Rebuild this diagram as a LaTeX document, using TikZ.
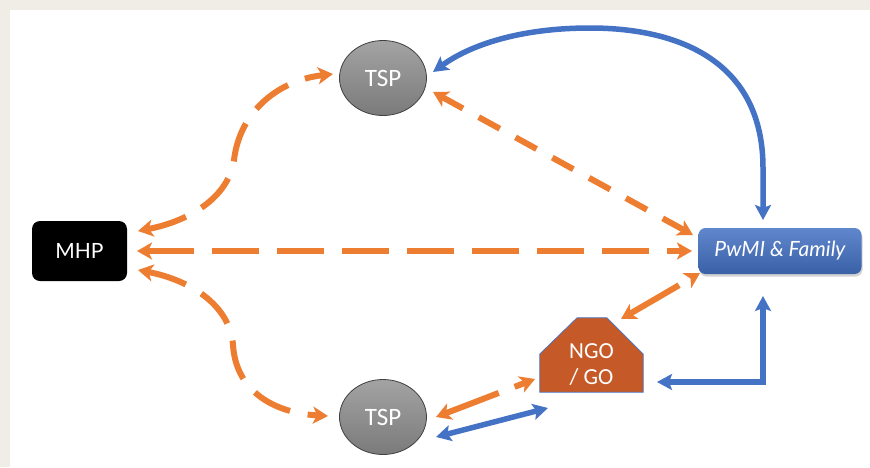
\documentclass[tikz,border=0pt]{standalone}
\usepackage{fontspec}
\setmainfont{Lato}
\newfontfamily\calib{Carlito}
\usetikzlibrary{arrows.meta,calc,shadows,shapes.geometric}
\definecolor{bgc}{HTML}{F0EDE6}
\definecolor{org}{HTML}{ED7D31}
\definecolor{blu}{HTML}{4472C4}
\definecolor{ngoc}{HTML}{C55A28}
\tikzset{
  otip/.tip={Stealth[length=15pt,width=17pt,inset=4pt]},
  btip/.tip={Stealth[length=15pt,width=16pt,inset=3pt]},
  oarr/.style={draw=org, line width=6pt, otip-otip},
  barr/.style={draw=blu, line width=5.5pt},
  tspnode/.style={ellipse, minimum width=87pt, minimum height=75pt, inner sep=0pt,
    draw=black!75, line width=0.8pt, top color=black!36, bottom color=black!52,
    text=white, font=\calib\fontsize{25}{29}\selectfont},
  mhpnode/.style={rectangle, rounded corners=8pt, fill=black, minimum width=95pt,
    minimum height=60pt, text=white, font=\fontsize{21}{25}\selectfont},
  pwnode/.style={rectangle, rounded corners=7pt, minimum width=163pt, minimum height=46pt,
    top color=blu!85!white, bottom color=blu!85!black, draw=none,
    drop shadow={shadow xshift=1pt, shadow yshift=-2.5pt, opacity=0.35},
    text=white, font=\itshape\fontsize{21}{25}\selectfont},
  ngonode/.style={rectangle, minimum width=103pt, minimum height=74pt, inner sep=0pt,
    text=white, align=center, font=\calib\fontsize{23}{26}\selectfont},
}
\begin{document}
\begin{tikzpicture}[x=1pt,y=-1pt]
\fill[bgc] (0,0) rectangle (870,467);
\fill[white] (10,10) rectangle (870,467);
\useasboundingbox (0,0) rectangle (870,467);

% nodes
\node[tspnode] (tspA) at (383,78) {TSP};
\node[tspnode] (tspB) at (383,417) {TSP};
\node[mhpnode] (mhp) at (79.5,251) {MHP};
\node[pwnode] (pw) at (780,251) {PwMI \& Family};
\node[ngonode] (ngo) at (591.5,355) {};
\fill[ngoc, draw=blu, line width=0.7pt]
  (ngo.south west) -- ($(ngo.west)+(0,-1)$) -- ($(ngo.north)+(-14.5,0)$)
  -- ($(ngo.north)+(15.5,0)$) -- ($(ngo.east)+(0,-1)$) -- (ngo.south east) -- cycle;
\node[ngonode, minimum height=0pt] at ($(ngo.center)+(0,10)$) {NGO\\/ GO};

% orange dashed connectors
\draw[oarr, dash pattern=on 47pt off 18pt]
  ($(mhp.center)+(57.5,0)$) -- ($(pw.center)+(-88,0)$);
\draw[oarr, dash pattern=on 24pt off 18pt]
  ($(tspA.center)+(50,14)$) -- ($(pw.center)+(-87,-16)$);
\draw[oarr, dash pattern=on 40pt off 18pt]
  ($(mhp.center)+(58.5,-20)$) .. controls (185,222) and (228,200) .. (234,160)
  .. controls (240,110) and (280,80) .. ($(tspA.center)+(-50,-4)$);
\draw[oarr, dash pattern=on 40pt off 18pt]
  ($(mhp.center)+(58.5,19)$) .. controls (190,280) and (230,305) .. (233,345)
  .. controls (236,392) and (275,413) .. ($(tspB.center)+(-55,-1)$);
\draw[oarr, dash pattern=on 57pt off 16pt]
  ($(ngo.center)+(29.5,-36)$) -- ($(pw.center)+(-80,22)$);
\draw[oarr, dash pattern=on 57pt off 17pt]
  ($(tspB.center)+(53,0)$) -- ($(ngo.center)+(-56.5,24)$);

% blue connectors
\draw[barr, btip-btip]
  ($(pw.center)+(-17,-31)$) -- (763,170) .. controls (764,62) and (680,28) .. (590,28)
  .. controls (520,28) and (470,45) .. ($(tspA.center)+(50,-6)$);
\draw[barr, btip-btip]
  ($(pw.center)+(-17,45)$) |- ($(ngo.center)+(65.5,27)$);
\draw[barr, btip-btip]
  ($(tspB.center)+(53,20)$) -- ($(ngo.center)+(-43.5,53)$);
\end{tikzpicture}
\end{document}
